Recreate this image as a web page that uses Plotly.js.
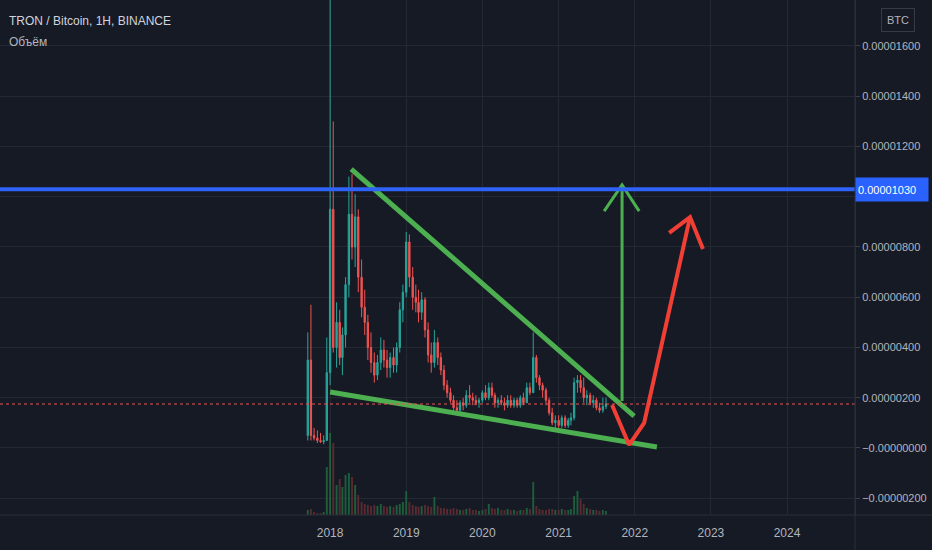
<!DOCTYPE html>
<html>
<head>
<meta charset="utf-8">
<script src="https://cdn.plot.ly/plotly-3.0.1.min.js"></script>
<style>
html,body{margin:0;padding:0;background:#161a25;}
#chart{width:932px;height:550px;}
</style>
</head>
<body>
<div id="chart"></div>
<script>
// ---- data (price in units of 1e-6 BTC; axis labels show full BTC values) ----
const dates = ['2017-09-16','2017-10-01','2017-10-16','2017-11-01','2017-11-16','2017-12-01','2017-12-16',
'2018-01-01','2018-01-16','2018-02-01','2018-02-16','2018-03-01','2018-03-16','2018-04-01','2018-04-16','2018-05-01','2018-05-16','2018-06-01','2018-06-16','2018-07-01','2018-07-16','2018-08-01','2018-08-16','2018-09-01','2018-09-16','2018-10-01','2018-10-16','2018-11-01','2018-11-16','2018-12-01','2018-12-16',
'2019-01-01','2019-01-16','2019-02-01','2019-02-16','2019-03-01','2019-03-16','2019-04-01','2019-04-16','2019-05-01','2019-05-16','2019-06-01','2019-06-16','2019-07-01','2019-07-16','2019-08-01','2019-08-16','2019-09-01','2019-09-16','2019-10-01','2019-10-16','2019-11-01','2019-11-16','2019-12-01','2019-12-16',
'2020-01-01','2020-01-16','2020-02-01','2020-02-16','2020-03-01','2020-03-16','2020-04-01','2020-04-16','2020-05-01','2020-05-16','2020-06-01','2020-06-16','2020-07-01','2020-07-16','2020-08-01','2020-08-16','2020-09-01','2020-09-16','2020-10-01','2020-10-16','2020-11-01','2020-11-16','2020-12-01','2020-12-16',
'2021-01-01','2021-01-16','2021-02-01','2021-02-16','2021-03-01','2021-03-16','2021-04-01','2021-04-16','2021-05-01','2021-05-16','2021-06-01','2021-06-16','2021-07-01','2021-07-16','2021-08-01','2021-08-16'];

const openV = [0.5,3.5,0.5,0.4,0.3,0.25,0.3,
3.0,9.5,4.0,5.0,3.6,4.5,6.5,9.3,8.0,9.2,6.8,5.6,5.0,4.0,3.4,2.9,3.4,3.9,3.5,3.2,3.6,3.3,4.0,5.5,
6.2,8.2,6.8,6.0,5.8,5.4,5.9,4.7,3.7,3.4,4.2,3.6,3.1,2.5,2.2,1.9,1.6,1.5,1.8,1.7,2.1,2.0,1.9,1.8,
1.9,2.2,2.0,2.4,2.1,1.8,1.9,1.8,1.7,1.9,1.7,1.9,1.7,2.0,1.8,2.4,2.2,3.6,2.8,2.5,2.3,1.9,1.4,1.0,
1.1,0.9,1.2,0.9,1.1,1.2,2.6,2.7,2.4,2.0,2.1,1.8,1.9,1.6,1.5,1.65];
const highV = [4.6,5.7,0.8,0.7,0.6,0.5,4.4,
19.0,13.0,5.8,5.5,4.8,6.8,10.8,10.9,10.1,9.5,7.5,6.3,5.3,4.6,3.8,3.7,4.4,4.3,3.9,3.8,4.0,4.2,5.8,6.5,
8.6,8.5,7.2,6.5,6.3,6.2,6.0,5.0,4.2,4.7,4.4,3.8,3.3,2.7,2.4,2.1,1.9,1.9,2.0,2.3,2.5,2.2,2.1,2.0,
2.3,2.5,2.6,2.6,2.2,2.0,2.1,2.0,2.1,2.1,2.0,2.0,2.1,2.2,2.6,2.6,4.6,3.7,2.9,2.6,2.4,2.0,1.6,1.3,
1.3,1.3,1.3,1.2,1.4,2.8,2.9,2.9,2.8,2.3,2.2,2.1,2.0,1.8,2.0,2.0];
const lowV = [0.3,0.3,0.3,0.2,0.2,0.15,0.3,
2.5,3.8,3.2,3.3,2.9,4.0,6.0,7.5,7.2,6.2,5.2,4.5,3.5,3.0,2.6,2.7,3.1,3.2,2.8,2.8,3.0,3.0,3.8,5.0,
6.0,6.4,5.5,5.4,5.0,5.1,4.4,3.4,3.0,3.2,3.3,2.9,2.3,2.0,1.8,1.5,1.3,1.3,1.5,1.6,1.8,1.7,1.7,1.6,
1.8,1.9,1.9,2.0,1.6,1.6,1.7,1.5,1.6,1.6,1.6,1.6,1.6,1.7,1.8,2.1,2.2,2.6,2.3,2.0,1.7,1.3,0.9,0.8,
0.8,0.8,0.8,0.8,0.9,1.1,2.2,2.2,1.8,1.7,1.7,1.6,1.5,1.4,1.4,1.55];
const closeV = [3.5,0.5,0.4,0.3,0.25,0.3,3.0,
9.5,4.0,5.0,3.6,4.5,6.5,9.3,8.0,9.2,6.8,5.6,5.0,4.0,3.4,2.9,3.4,3.9,3.5,3.2,3.6,3.3,4.0,5.5,6.2,
8.2,6.8,6.0,5.8,5.4,5.9,4.7,3.7,3.4,4.2,3.6,3.1,2.5,2.2,1.9,1.6,1.5,1.8,1.7,2.1,2.0,1.9,1.8,1.9,
2.2,2.0,2.4,2.1,1.8,1.9,1.8,1.7,1.9,1.7,1.9,1.7,2.0,1.8,2.4,2.2,3.6,2.8,2.5,2.3,1.9,1.4,1.0,1.1,
0.9,1.2,0.9,1.1,1.2,2.6,2.7,2.4,2.0,2.1,1.8,1.9,1.6,1.5,1.65,1.75];
const volumeV = [5,6,3,2,2,3,48,
82,72,30,36,28,40,42,38,30,20,13,11,10,9,10,9,11,9,8,9,8,10,11,13,
24,13,10,9,8,9,10,9,8,18,9,7,7,6,6,7,6,5,5,6,7,5,5,4,
5,6,11,7,6,7,5,5,6,5,5,4,5,5,7,6,33,9,6,5,5,6,6,5,
5,6,5,5,6,19,24,16,11,7,6,5,5,4,5,4];

// axis ticks (values in 1e-6 BTC) and their labels
const yTickVals = [-2,0,2,4,6,8,10,12,14,16];
const yTickText = ['\u22120.00000200','\u22120.00000000','0.00000200','0.00000400','0.00000600','0.00000800','','0.00001200','0.00001400','0.00001600'];
const xTickVals = ['2018-01-01','2019-01-01','2020-01-01','2021-01-01','2022-01-01','2023-01-01','2024-01-01'];
const xTickText = ['2018','2019','2020','2021','2022','2023','2024'];

// drawings
const resistanceLevel = 10.3;
const resistanceLabel = '0.00001030';
const lastPrice = 1.75;
const upperTrendX = ['2018-04-12','2021-12-29'];
const upperTrendY = [11.10, 1.27];
const lowerTrendX = ['2018-01-01','2022-04-17'];
const lowerTrendY = [2.23, 0.04];
const greenShaftX = ['2021-11-01','2021-11-01'];
const greenShaftY = [1.87, 10.47];
const greenHeadX = ['2021-08-07','2021-11-01','2022-01-22'];
const greenHeadY = [9.43, 10.47, 9.43];
const redPathX = ['2021-09-14','2021-12-05','2022-02-15','2022-09-23'];
const redPathY = [1.71, 0.12, 1.00, 9.19];
const redHeadX = ['2022-06-15','2022-09-23','2022-11-24'];
const redHeadY = [8.56, 9.19, 7.92];

const UP = '#26a69a', DOWN = '#ef5350';
const volColors = closeV.map((c,i)=> c >= openV[i] ? '#1d5e3c' : '#5a2a31');

const traces = [
  {type:'candlestick', x:dates, open:openV, high:highV, low:lowV, close:closeV,
   increasing:{line:{color:UP,width:1}, fillcolor:UP},
   decreasing:{line:{color:DOWN,width:1}, fillcolor:DOWN},
   whiskerwidth:0, hoverinfo:'skip', showlegend:false},
  {type:'scatter', mode:'lines', x:upperTrendX, y:upperTrendY, line:{color:'#4caf50', width:5}, hoverinfo:'skip', showlegend:false},
  {type:'scatter', mode:'lines', x:lowerTrendX, y:lowerTrendY, line:{color:'#4caf50', width:5}, hoverinfo:'skip', showlegend:false},
  {type:'scatter', mode:'lines', x:greenShaftX, y:greenShaftY, line:{color:'#4caf50', width:3}, hoverinfo:'skip', showlegend:false},
  {type:'scatter', mode:'lines', x:greenHeadX, y:greenHeadY, line:{color:'#4caf50', width:3}, hoverinfo:'skip', showlegend:false},
  {type:'scatter', mode:'lines', x:redPathX, y:redPathY, line:{color:'#f23f35', width:4}, hoverinfo:'skip', showlegend:false},
  {type:'scatter', mode:'lines', x:redHeadX, y:redHeadY, line:{color:'#f23f35', width:4}, hoverinfo:'skip', showlegend:false},
  {type:'bar', x:dates, y:volumeV, yaxis:'y2', marker:{color:volColors, line:{width:0}}, hoverinfo:'skip', showlegend:false}
];

const FONT = 'Liberation Sans, Arial, sans-serif';
const layout = {
  width:932, height:550,
  margin:{l:0, r:77, t:0, b:35},
  paper_bgcolor:'#161a25', plot_bgcolor:'#161a25',
  font:{family:FONT, color:'#b2b5be', size:11},
  showlegend:false,
  bargap:0.3,
  xaxis:{type:'date', range:['2013-09-01','2024-11-22'], tickvals:xTickVals, ticktext:xTickText,
    showgrid:true, gridcolor:'#242833', zeroline:false, showline:false,
    ticks:'outside', ticklen:7, tickcolor:'rgba(0,0,0,0)',
    tickfont:{size:12, color:'#b2b5be', family:FONT}, rangeslider:{visible:false}, fixedrange:true},
  yaxis:{side:'right', range:[-2.667, 17.83], tickvals:yTickVals, ticktext:yTickText,
    showgrid:true, gridcolor:'#242833', zeroline:false, showline:true, linecolor:'#2a2e39',
    ticks:'outside', ticklen:4, tickcolor:'#3a3e4a',
    tickfont:{size:11, color:'#b2b5be', family:FONT}, fixedrange:true},
  yaxis2:{overlaying:'y', range:[0,515], visible:false, fixedrange:true},
  shapes:[
    {type:'line', xref:'paper', yref:'y', x0:0, x1:1, y0:lastPrice, y1:lastPrice, line:{color:'#ef5350', width:1, dash:'dot'}},
    {type:'line', xref:'paper', yref:'y', x0:0, x1:1, y0:resistanceLevel, y1:resistanceLevel, line:{color:'#2f62f6', width:4}},
    {type:'line', xref:'paper', yref:'paper', x0:0, x1:932/855, y0:0, y1:0, line:{color:'#2a2e39', width:1}},
    {type:'line', xref:'paper', yref:'paper', x0:1, x1:1, y0:-35/515, y1:1, line:{color:'#2a2e39', width:1}}
  ],
  annotations:[
    {xref:'paper', yref:'paper', x:0, y:1, xanchor:'left', yanchor:'middle', xshift:7, yshift:-21,
     text:'TRON / Bitcoin, 1H, BINANCE', showarrow:false, font:{size:12, color:'#d1d4dc', family:FONT}},
    {xref:'paper', yref:'paper', x:0, y:1, xanchor:'left', yanchor:'middle', xshift:7, yshift:-42,
     text:'Объём', showarrow:false, font:{size:12, color:'#b2b5be', family:FONT}},
    {xref:'paper', yref:'paper', x:1, y:1, xanchor:'left', yanchor:'middle', xshift:26, yshift:-20,
     text:'BTC', showarrow:false, bordercolor:'#363a45', borderwidth:1, borderpad:5,
     font:{size:11, color:'#b2b5be', family:FONT}},
    {xref:'paper', yref:'y', x:1, y:resistanceLevel, xanchor:'left', yanchor:'middle',
     text:resistanceLabel, showarrow:false, bgcolor:'#2962ff', width:68, height:19, align:'left', borderpad:2,
     font:{size:11, color:'#ffffff', family:FONT}}
  ]
};

Plotly.newPlot('chart', traces, layout, {displayModeBar:false, staticPlot:true});
</script>
</body>
</html>
